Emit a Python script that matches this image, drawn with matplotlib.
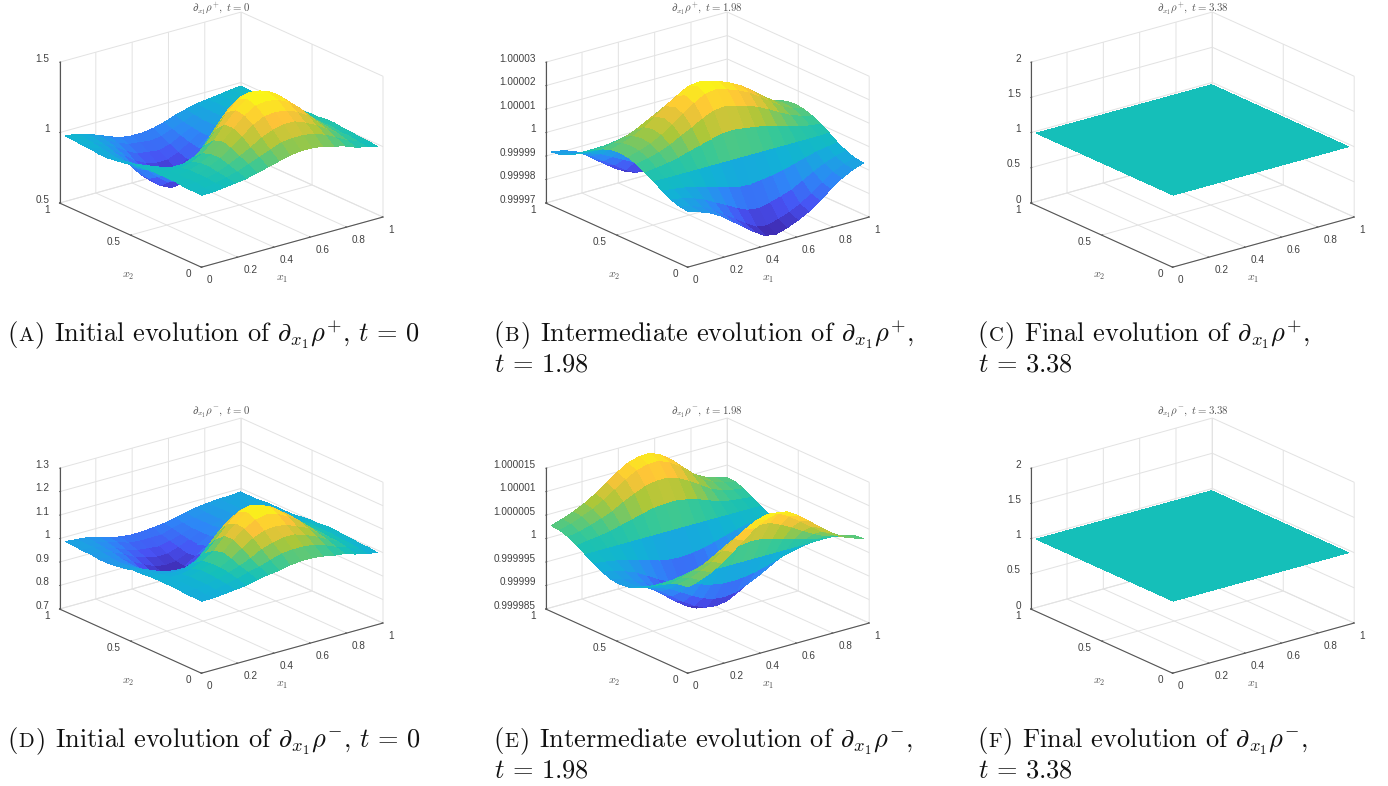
import numpy as np
import matplotlib
matplotlib.use("Agg")
import matplotlib.pyplot as plt
from matplotlib.colors import LinearSegmentedColormap, Normalize
from mpl_toolkits.mplot3d import proj3d

plt.rcParams['mathtext.fontset'] = 'cm'
plt.rcParams['font.family'] = ['Liberation Sans', 'DejaVu Sans']
plt.rcParams['grid.color'] = '#e2e2e2'
plt.rcParams['grid.linewidth'] = 0.7
plt.rcParams['axes.linewidth'] = 0.7

x1_grid = [.015,.075,.136,.196,.256,.317,.377,.437,.498,.558,.618,.678,.739,.799,.859,.920,.98]
x2_grid = [.015,.075,.136,.196,.256,.317,.377,.437,.498,.558,.618,.678,.739,.799,.859,.920,.98]

Z_A = [
 [1.00,1.00,1.01,1.02,1.03,1.05,1.07,1.09,1.11,1.12,1.12,1.11,1.09,1.07,1.04,1.02,1.00],
 [1.00,1.00,1.01,1.03,1.05,1.08,1.11,1.14,1.17,1.18,1.18,1.17,1.14,1.10,1.06,1.03,1.01],
 [1.00,1.01,1.02,1.04,1.07,1.11,1.15,1.20,1.23,1.25,1.25,1.22,1.18,1.13,1.08,1.04,1.01],
 [1.01,1.01,1.02,1.05,1.09,1.14,1.20,1.26,1.30,1.31,1.30,1.27,1.22,1.15,1.09,1.04,1.02],
 [1.01,1.01,1.02,1.05,1.09,1.16,1.23,1.30,1.35,1.36,1.35,1.31,1.25,1.17,1.10,1.05,1.02],
 [1.01,1.01,1.01,1.03,1.07,1.14,1.23,1.31,1.37,1.38,1.37,1.33,1.26,1.18,1.10,1.05,1.03],
 [1.01,1.00,.99,.99,1.02,1.08,1.17,1.27,1.34,1.37,1.36,1.33,1.26,1.18,1.10,1.05,1.03],
 [1.00,.99,.96,.94,.94,.98,1.07,1.17,1.26,1.31,1.32,1.29,1.23,1.16,1.09,1.05,1.02],
 [1.00,.97,.92,.87,.85,.86,.92,1.02,1.12,1.19,1.23,1.23,1.19,1.13,1.07,1.03,1.02],
 [.98,.95,.89,.82,.76,.74,.79,.88,.98,1.06,1.12,1.14,1.12,1.08,1.05,1.02,1.01],
 [.97,.94,.87,.78,.71,.67,.68,.75,.85,.94,1.00,1.04,1.04,1.03,1.02,1.01,1.00],
 [.96,.93,.87,.78,.71,.67,.65,.69,.76,.84,.91,.96,.98,.99,1.00,1.00,1.00],
 [.96,.94,.89,.82,.76,.71,.69,.70,.75,.81,.87,.92,.95,.97,.99,1.00,1.00],
 [.97,.95,.91,.86,.80,.76,.74,.74,.77,.82,.87,.91,.94,.96,.98,.99,1.00],
 [.97,.96,.93,.89,.84,.80,.79,.78,.80,.84,.88,.91,.94,.96,.98,.99,.99],
 [.98,.97,.94,.91,.87,.84,.83,.82,.83,.86,.89,.92,.94,.96,.97,.99,.99],
 [.98,.97,.95,.92,.89,.86,.85,.85,.86,.88,.91,.93,.95,.96,.97,.98,.99],
]
Z_D = [
 [1,1,1.005,1.01,1.015,1.025,1.035,1.04,1.05,1.055,1.055,1.05,1.04,1.035,1.02,1.01,1],
 [1,1,1.005,1.015,1.025,1.04,1.05,1.065,1.08,1.085,1.085,1.08,1.065,1.045,1.03,1.015,1.005],
 [1,1.005,1.01,1.02,1.035,1.05,1.07,1.095,1.11,1.12,1.12,1.105,1.085,1.06,1.04,1.02,1.005],
 [1.005,1.005,1.01,1.025,1.04,1.065,1.095,1.125,1.145,1.15,1.145,1.125,1.105,1.07,1.04,1.02,1.01],
 [1.005,1.005,1.01,1.025,1.04,1.075,1.115,1.15,1.175,1.185,1.175,1.15,1.12,1.08,1.045,1.025,1.01],
 [1.005,1.005,1.005,1.015,1.035,1.065,1.115,1.155,1.19,1.20,1.19,1.16,1.125,1.085,1.045,1.025,1.015],
 [1.005,1,.995,.995,1.01,1.04,1.085,1.135,1.175,1.19,1.18,1.16,1.125,1.085,1.045,1.025,1.015],
 [1,.995,.985,.975,.975,.995,1.04,1.09,1.13,1.155,1.155,1.14,1.11,1.075,1.04,1.025,1.01],
 [1,.99,.97,.95,.94,.945,.97,1.01,1.05,1.08,1.09,1.09,1.08,1.05,1.03,1.01,1.01],
 [.99,.98,.955,.93,.905,.895,.915,.95,.99,1.02,1.05,1.06,1.05,1.03,1.02,1.01,1.005],
 [.985,.975,.95,.91,.885,.87,.87,.90,.94,.975,1.0,1.015,1.015,1.01,1.01,1.005,1],
 [.98,.97,.95,.91,.885,.87,.86,.875,.905,.935,.965,.985,.99,.995,1,1,1],
 [.98,.975,.955,.93,.905,.885,.875,.88,.90,.925,.95,.97,.98,.99,.995,1,1],
 [.985,.98,.965,.945,.92,.905,.895,.895,.91,.93,.95,.965,.975,.985,.99,.995,1],
 [.985,.985,.97,.955,.935,.92,.915,.91,.92,.935,.95,.965,.975,.985,.99,.995,.995],
 [.99,.985,.975,.965,.95,.935,.93,.93,.93,.945,.955,.965,.975,.985,.99,.995,.995],
 [.99,.985,.98,.97,.955,.945,.94,.94,.945,.95,.96,.97,.98,.985,.99,.99,.995],
]
# deviations from 1, in units of 1e-5
D_B = [
 [-.70,-.84,-1.02,-1.28,-1.63,-1.97,-2.33,-2.62,-2.70,-2.56,-2.37,-2.13,-1.80,-1.43,-1.10,-.85,-.70],
 [-.65,-.78,-.95,-1.19,-1.51,-1.83,-2.16,-2.43,-2.50,-2.37,-2.20,-1.98,-1.67,-1.33,-1.02,-.79,-.65],
 [-.52,-.62,-.75,-.93,-1.18,-1.42,-1.68,-1.88,-1.94,-1.84,-1.70,-1.54,-1.30,-1.04,-.81,-.63,-.52],
 [-.33,-.38,-.45,-.55,-.69,-.82,-.95,-1.07,-1.10,-1.04,-.97,-.88,-.75,-.61,-.48,-.39,-.33],
 [-.08,-.10,-.10,-.10,-.10,-.10,-.10,-.10,-.10,-.10,-.10,-.10,-.10,-.10,-.10,-.10,-.08],
 [.13,.18,.25,.35,.49,.62,.75,.87,.90,.84,.77,.68,.55,.41,.28,.19,.13],
 [.32,.42,.55,.73,.98,1.22,1.48,1.68,1.74,1.64,1.50,1.34,1.10,.84,.61,.43,.32],
 [.45,.58,.75,.99,1.31,1.63,1.96,2.23,2.30,2.17,2.00,1.78,1.47,1.13,.82,.59,.45],
 [.50,.64,.82,1.08,1.43,1.77,2.13,2.42,2.50,2.36,2.17,1.93,1.60,1.23,.90,.65,.50],
 [.45,.58,.75,.99,1.31,1.63,1.96,2.23,2.30,2.17,2.00,1.78,1.47,1.13,.82,.59,.45],
 [.32,.42,.55,.73,.98,1.22,1.48,1.68,1.74,1.64,1.50,1.34,1.10,.84,.61,.43,.32],
 [.11,.16,.23,.33,.47,.60,.73,.85,.88,.82,.75,.66,.53,.39,.26,.17,.11],
 [-.12,-.12,-.12,-.12,-.12,-.12,-.12,-.12,-.12,-.12,-.12,-.12,-.12,-.12,-.12,-.12,-.12],
 [-.38,-.42,-.47,-.55,-.69,-.82,-.95,-1.07,-1.10,-1.04,-.97,-.88,-.75,-.61,-.50,-.42,-.38],
 [-.60,-.66,-.77,-.93,-1.18,-1.42,-1.68,-1.88,-1.94,-1.84,-1.70,-1.54,-1.30,-1.04,-.83,-.66,-.60],
 [-.74,-.81,-.96,-1.19,-1.51,-1.83,-2.16,-2.40,-2.46,-2.35,-2.20,-1.98,-1.67,-1.33,-1.03,-.82,-.74],
 [-.80,-.88,-1.03,-1.28,-1.63,-1.97,-2.30,-2.55,-2.60,-2.50,-2.35,-2.13,-1.80,-1.43,-1.10,-.88,-.80],
]
D_E = [
 [.30,.37,.47,.60,.78,.97,1.15,1.28,1.35,1.32,1.18,1.00,.80,.62,.47,.38,.30],
 [.28,.34,.43,.55,.72,.90,1.06,1.18,1.25,1.22,1.09,.92,.74,.57,.43,.35,.28],
 [.21,.26,.33,.42,.55,.69,.81,.90,.95,.93,.83,.71,.57,.44,.33,.27,.21],
 [.11,.14,.18,.23,.30,.37,.44,.49,.52,.51,.45,.38,.31,.24,.18,.15,.11],
 [0,0,0,0,0,0,0,0,0,0,0,0,0,0,0,0,0],
 [-.11,-.14,-.18,-.23,-.30,-.37,-.44,-.48,-.49,-.47,-.43,-.37,-.30,-.23,-.18,-.14,-.11],
 [-.21,-.26,-.33,-.42,-.55,-.69,-.81,-.89,-.91,-.88,-.79,-.68,-.55,-.42,-.33,-.26,-.21],
 [-.28,-.34,-.43,-.55,-.72,-.90,-1.05,-1.16,-1.19,-1.15,-1.03,-.89,-.72,-.55,-.43,-.34,-.28],
 [-.30,-.37,-.47,-.60,-.78,-.97,-1.14,-1.26,-1.29,-1.24,-1.12,-.96,-.78,-.60,-.46,-.37,-.30],
 [-.28,-.34,-.43,-.55,-.72,-.90,-1.05,-1.16,-1.19,-1.15,-1.03,-.89,-.72,-.55,-.43,-.34,-.28],
 [-.21,-.26,-.33,-.42,-.55,-.69,-.81,-.89,-.91,-.88,-.79,-.68,-.55,-.42,-.33,-.26,-.21],
 [-.11,-.14,-.18,-.23,-.30,-.37,-.44,-.48,-.49,-.47,-.43,-.37,-.30,-.23,-.18,-.14,-.11],
 [0,0,0,0,0,0,0,0,0,0,0,0,0,0,0,0,0],
 [.11,.14,.17,.21,.27,.33,.39,.45,.47,.48,.44,.38,.29,.21,.16,.13,.11],
 [.21,.25,.32,.40,.49,.62,.73,.83,.88,.88,.81,.69,.54,.39,.30,.24,.21],
 [.27,.33,.42,.52,.65,.80,.95,1.08,1.15,1.16,1.06,.91,.70,.51,.39,.31,.27],
 [.29,.36,.45,.56,.70,.87,1.03,1.17,1.24,1.25,1.15,.98,.76,.55,.42,.34,.29],
]
flat_grid = [.015, .98]
Z_flat = [[1.0, 1.0], [1.0, 1.0]]

ticks_xy = [0, .2, .4, .6, .8, 1]
labels_x = ['0', '0.2', '0.4', '0.6', '0.8', '1']
ticks_y = [0, .5, 1]
labels_y = ['0', '0.5', '1']
zt_A = [.5, 1, 1.5]; zl_A = ['0.5', '1', '1.5']
zt_B = [.99997, .99998, .99999, 1, 1.00001, 1.00002, 1.00003]
zl_B = ['0.99997', '0.99998', '0.99999', '1', '1.00001', '1.00002', '1.00003']
zt_C = [0, .5, 1, 1.5, 2]; zl_C = ['0', '0.5', '1', '1.5', '2']
zt_D = [.7, .8, .9, 1, 1.1, 1.2, 1.3]; zl_D = ['0.7', '0.8', '0.9', '1', '1.1', '1.2', '1.3']
zt_E = [.999985, .99999, .999995, 1, 1.000005, 1.00001, 1.000015]
zl_E = ['0.999985', '0.99999', '0.999995', '1', '1.000005', '1.00001', '1.000015']

parula = LinearSegmentedColormap.from_list('parula', [
    (0, (.2422,.1504,.6603)), (1/7, (.2810,.3228,.9579)), (2/7, (.1786,.5289,.9682)),
    (3/7, (.0689,.6948,.8394)), (.5, (.08,.75,.73)), (4/7, (.2161,.7843,.5923)),
    (5/7, (.6720,.7793,.2227)), (6/7, (.9970,.7659,.2199)), (1, (.9769,.9839,.0805))])

W, H = 1388, 786
fig = plt.figure(figsize=(W/100, H/100), dpi=100, facecolor='white')

def panel(left_px, dy, Z, zt, zl, title, title_x, title_y):
    ax = fig.add_axes([0, 0, 1000/W, 1000/H], projection='3d', proj_type='ortho')
    ax.patch.set_visible(False)
    ax.view_init(elev=20.7, azim=-128)
    ax.set_box_aspect((1, 1, 0.653))
    Z = np.asarray(Z, float)
    if Z.shape[0] == 2:
        xs, ys = flat_grid, flat_grid
        norm = Normalize(0, 2)
    else:
        xs, ys = x1_grid, x2_grid
        norm = Normalize(Z.min(), Z.max())
    X, Y = np.meshgrid(xs, ys)
    ax.plot_surface(X, Y, Z, rstride=1, cstride=1, cmap=parula, norm=norm,
                    linewidth=0, antialiased=False, shade=False)
    ax.set_xlim(0, 1, view_margin=0)
    ax.set_ylim(0, 1, view_margin=0)
    ax.set_zlim(zt[0], zt[-1], view_margin=0)
    ax.set_xticks(ticks_xy); ax.set_xticklabels(labels_x, ha='left')
    ax.set_yticks(ticks_y); ax.set_yticklabels(labels_y, ha='right', va='baseline')
    ax.set_zticks(zt); ax.set_zticklabels(zl, ha='right', va='baseline')
    for a in (ax.xaxis, ax.yaxis, ax.zaxis):
        a.set_pane_color((1, 1, 1, 0))
        a.pane.set_edgecolor('#e2e2e2')
        a.line.set_color('#555555')
        a.line.set_linewidth(0.8)
        a._axinfo['tick']['inward_factor'] = 0.0
        a._axinfo['tick']['outward_factor'] = 0.08
        a._axinfo['tick']['linewidth'] = {True: 0.6, False: 0.6}
        a._axinfo['tick']['color'] = '#555555'
        a.set_tick_params(labelsize=7.2, labelcolor='#404040', color='#555555')
    ax.xaxis.set_tick_params(pad=-3)
    ax.yaxis.set_tick_params(pad=-1)
    ax.zaxis.set_tick_params(pad=-4)

    # place the square axes so the box corners land at the reference's pixels
    M = ax.get_proj()
    def px(x, y, z):
        a, b, _ = proj3d.proj_transform(x, y, z, M)
        return ax.transData.transform((a, b))
    pl = px(0, 1, zt[0]); pr = px(1, 0, zt[0])
    S = 1000 * 323.5 / (pr[0] - pl[0])
    L = left_px - pl[0] * S / 1000
    B = (H - (203 + dy)) - pl[1] * S / 1000
    ax.set_position([L/W, B/H, S/W, S/H])

    fig.text(title_x/W, 1 - title_y/H, title, fontsize=7.8, color='#555555',
             ha='center', va='top')
    fig.text((left_px + 222.5)/W, 1 - (279 + dy)/H, r'$x_1$', fontsize=8.5, color='#555555',
             ha='center', va='center')
    fig.text((left_px + 68.5)/W, 1 - (276 + dy)/H, r'$x_2$', fontsize=8.5, color='#555555',
             ha='center', va='center')

def caption(x, y, letter, line1, line2=None, fs=19.0):
    r = fig.canvas.get_renderer()
    cur = x
    for s, f in (('(', fs), (letter, fs*0.78), (')', fs)):
        t = fig.text(cur/W, 1 - y/H, s, fontsize=f, family='cmr10', va='baseline', color='#111111')
        cur += t.get_window_extent(r).width + 1.2
    fig.text((cur + 8)/W, 1 - y/H, line1, fontsize=fs, family='cmr10', va='baseline', color='#111111')
    if line2:
        fig.text((x + 1)/W, 1 - (y + 31)/H, line2, fontsize=fs, family='cmr10', va='baseline', color='#111111')

panel(59.5, 0, Z_A, zt_A, zl_A, r'$\partial_{x_1}\rho^{+},\ t=0$', 221, 0.5)
panel(545.7, 0, np.asarray(D_B)*1e-5 + 1, zt_B, zl_B, r'$\partial_{x_1}\rho^{+},\ t=1.98$', 707, 0.5)
panel(1030.7, 0, Z_flat, zt_C, zl_C, r'$\partial_{x_1}\rho^{+},\ t=3.38$', 1193, 0.5)
panel(59.5, 406, Z_D, zt_D, zl_D, r'$\partial_{x_1}\rho^{-},\ t=0$', 221, 405)
panel(545.7, 406, np.asarray(D_E)*1e-5 + 1, zt_E, zl_E, r'$\partial_{x_1}\rho^{-},\ t=1.98$', 707, 405)
panel(1030.7, 406, Z_flat, zt_C, zl_C, r'$\partial_{x_1}\rho^{-},\ t=3.38$', 1193, 405)

caption(7, 341, 'A', r'Initial evolution of $\partial_{x_1}\rho^{+}$, $t\,=\,0$')
caption(493, 341, 'B', r'Intermediate evolution of $\partial_{x_1}\rho^{+}$,', r'$t\,=\,1.98$')
caption(977, 341, 'C', r'Final evolution of $\partial_{x_1}\rho^{+}$,', r'$t\,=\,3.38$')
caption(7, 747, 'D', r'Initial evolution of $\partial_{x_1}\rho^{-}$, $t\,=\,0$')
caption(493, 747, 'E', r'Intermediate evolution of $\partial_{x_1}\rho^{-}$,', r'$t\,=\,1.98$')
caption(977, 747, 'F', r'Final evolution of $\partial_{x_1}\rho^{-}$,', r'$t\,=\,3.38$')

fig.savefig('out.png', dpi=100, facecolor='white')
